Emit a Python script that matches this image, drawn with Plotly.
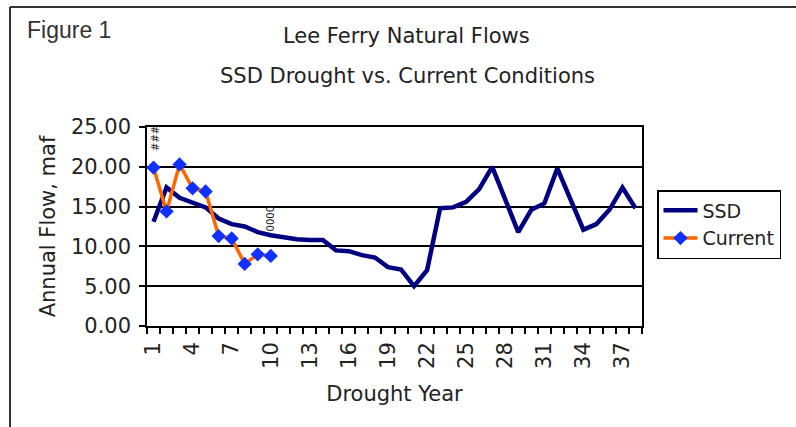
import plotly.graph_objects as go

# Drought years 1..38
years = list(range(1, 39))

# SSD (Severe Sustained Drought) annual natural flow at Lee Ferry, maf
ssd_flow = [13.1, 17.4, 16.1, 15.5, 14.9, 13.5, 12.8, 12.5, 11.8, 11.4,
            11.1, 10.9, 10.8, 10.8, 9.5, 9.4, 8.9, 8.6, 7.4, 7.1,
            5.0, 7.0, 14.8, 14.9, 15.6, 17.2, 20.0, 15.8, 11.8, 14.6,
            15.4, 19.8, 16.0, 12.1, 12.8, 14.6, 17.4, 14.8]

# Current drought, first ten years, maf
current_years = list(range(1, 11))
current_flow = [19.9, 14.4, 20.3, 17.3, 16.9, 11.3, 11.0, 7.8, 9.0, 8.8]

tick_years = list(range(1, 38, 3))
y_ticks = [0, 5, 10, 15, 20, 25]
y_labels = ["0.00", "5.00", "10.00", "15.00", "20.00", "25.00"]

FONT = "DejaVu Sans"
INK = "#222"

# plot area in pixels: x 147..642, y 127..326
PL, PR, PT, PB = 147, 642, 127, 326
PW, PH = PR - PL, PB - PT


def px(x):
    return (x - PL) / PW


def py(y):
    return (PB - y) / PH


fig = go.Figure()
fig.add_trace(go.Scatter(
    x=years, y=ssd_flow, name="SSD", mode="lines",
    line=dict(color="#000080", width=4.5),
))
fig.add_trace(go.Scatter(
    x=current_years, y=current_flow, name="Current", mode="lines+markers",
    line=dict(color="#FF6600", width=3.5),
    marker=dict(symbol="diamond", size=11, color="#1030FF"),
))

fig.update_xaxes(
    range=[0.5, 38.5],
    tickmode="array", tickvals=tick_years,
    ticktext=[str(v) for v in tick_years],
    tickangle=-90, ticks="", showgrid=False, zeroline=False,
    showline=True, linecolor="black", linewidth=1.5, mirror=True,
    tickfont=dict(family=FONT, size=21, color=INK),
    ticklabelstandoff=6,
    minor=dict(tick0=0.5, dtick=1, ticks="outside", ticklen=6,
               tickcolor="black", tickwidth=1.5, showgrid=False),
    title=dict(text="Drought Year", font=dict(family=FONT, size=21, color=INK),
               standoff=18),
)
fig.update_yaxes(
    range=[0, 25], tickmode="array", tickvals=y_ticks, ticktext=y_labels,
    ticks="outside", ticklen=6, tickcolor="black", tickwidth=1.5,
    showgrid=True, gridcolor="black", gridwidth=1.5, zeroline=False,
    showline=True, linecolor="black", linewidth=1.5, mirror=True,
    tickfont=dict(family=FONT, size=21, color=INK),
    ticklabelstandoff=4,
    title=dict(text="Annual Flow, maf", font=dict(family=FONT, size=21, color=INK),
               standoff=10),
)

fig.update_layout(
    width=796, height=427,
    margin=dict(l=PL, r=796 - PR, t=PT, b=427 - PB),
    paper_bgcolor="white", plot_bgcolor="white",
    showlegend=True,
    legend=dict(x=px(657), y=py(190), xanchor="left", yanchor="top",
                bordercolor="black", borderwidth=1.5, bgcolor="white",
                font=dict(family=FONT, size=19, color=INK),
                itemwidth=34, tracegroupgap=0),
    annotations=[
        dict(text="Figure 1", x=px(25), y=py(30),
             xref="paper", yref="paper", xanchor="left", yanchor="middle",
             showarrow=False,
             font=dict(family="Liberation Sans", size=23, color="#333")),
        dict(text="Lee Ferry Natural Flows", x=px(406), y=py(36),
             xref="paper", yref="paper",
             xanchor="center", yanchor="middle", showarrow=False,
             font=dict(family=FONT, size=21, color=INK)),
        dict(text="SSD Drought vs. Current Conditions", x=px(407), y=py(76),
             xref="paper", yref="paper",
             xanchor="center", yanchor="middle", showarrow=False,
             font=dict(family=FONT, size=21, color=INK)),
        dict(text="###", x=1.1, y=23.6, xref="x", yref="y", textangle=-90,
             showarrow=False, font=dict(family=FONT, size=10, color=INK)),
        dict(text="0000", x=9.95, y=13.4, xref="x", yref="y", textangle=-90,
             showarrow=False, font=dict(family=FONT, size=10, color=INK)),
    ],
    shapes=[
        dict(type="line", xref="paper", yref="paper",
             x0=px(10), x1=px(800), y0=py(7), y1=py(7),
             line=dict(color="#333", width=2)),
        dict(type="line", xref="paper", yref="paper",
             x0=px(10), x1=px(10), y0=py(7), y1=py(430),
             line=dict(color="#333", width=2)),
    ],
)

fig.write_html("out.html")
